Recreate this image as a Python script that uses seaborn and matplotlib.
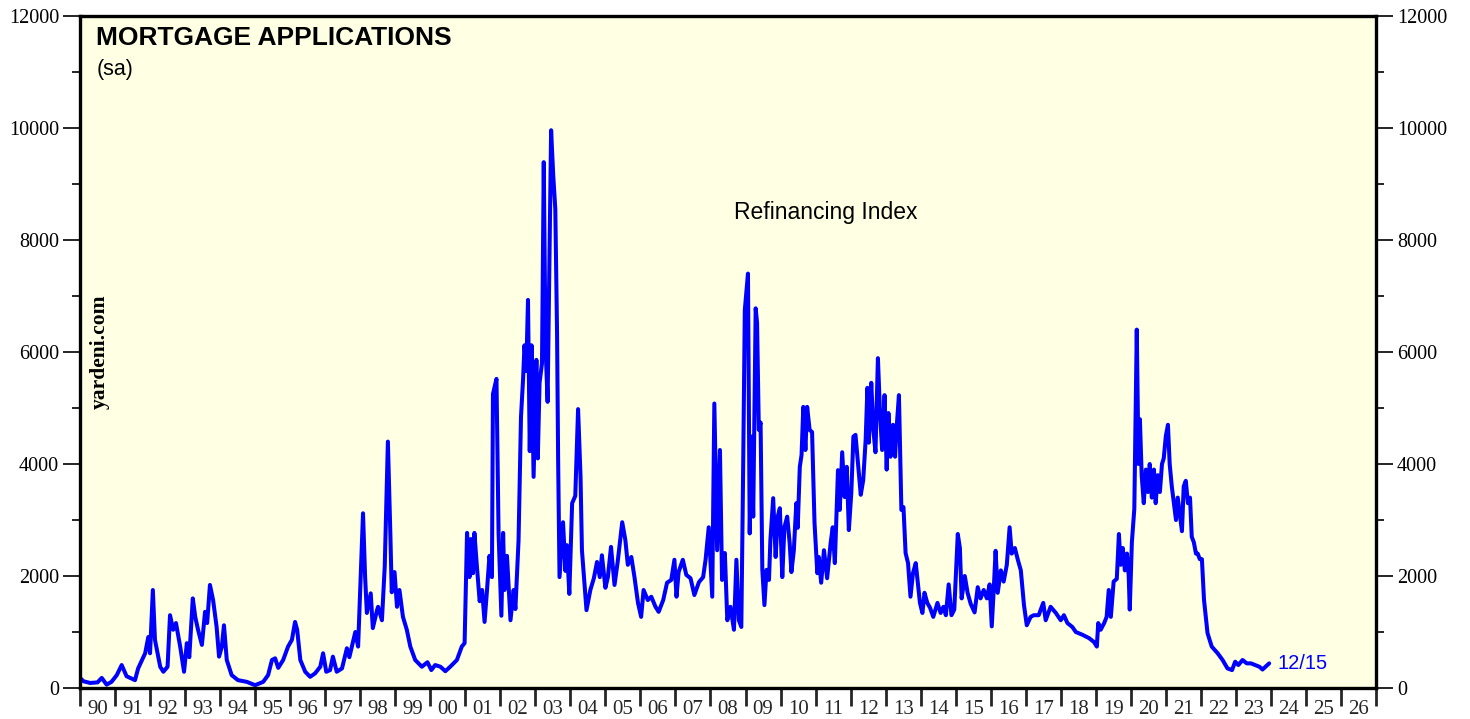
import numpy as np
import pandas as pd
import matplotlib
matplotlib.use("Agg")
import matplotlib.pyplot as plt
import seaborn as sns
from matplotlib.ticker import MultipleLocator, FixedLocator, FixedFormatter

# Refinancing index (decimal year, index value)
years = [
    1990.00, 1990.10, 1990.29, 1990.50, 1990.62, 1990.76, 1990.90, 1991.05, 1991.19, 1991.33,
    1991.57, 1991.66, 1991.86, 1991.95, 1992.00, 1992.08, 1992.14, 1992.29, 1992.38, 1992.50,
    1992.57, 1992.66, 1992.74, 1992.86, 1992.97, 1993.05, 1993.12, 1993.22, 1993.29, 1993.37,
    1993.48, 1993.57, 1993.63, 1993.71, 1993.80, 1993.90, 1993.97, 1994.05, 1994.11, 1994.19,
    1994.33, 1994.51, 1994.76, 1995.00, 1995.23, 1995.37, 1995.48, 1995.57, 1995.66, 1995.80,
    1995.94, 1996.05, 1996.14, 1996.20, 1996.29, 1996.43, 1996.57, 1996.71, 1996.86, 1996.94,
    1997.03, 1997.14, 1997.22, 1997.33, 1997.48, 1997.62, 1997.69, 1997.86, 1997.94, 1998.08,
    1998.14, 1998.19, 1998.30, 1998.36, 1998.48, 1998.51, 1998.62, 1998.70, 1998.79, 1998.86,
    1998.90, 1998.98, 1999.05, 1999.12, 1999.22, 1999.33, 1999.43, 1999.57, 1999.76, 1999.92,
    2000.03, 2000.14, 2000.29, 2000.43, 2000.57, 2000.76, 2000.90, 2000.98, 2001.05, 2001.12,
    2001.16, 2001.22, 2001.26, 2001.33, 2001.41, 2001.48, 2001.55, 2001.62, 2001.69, 2001.76,
    2001.79, 2001.89, 2001.95, 2002.03, 2002.08, 2002.12, 2002.19, 2002.29, 2002.38, 2002.43,
    2002.52, 2002.59, 2002.65, 2002.69, 2002.74, 2002.79, 2002.84, 2002.89, 2002.95, 2003.03,
    2003.07, 2003.12, 2003.19, 2003.24, 2003.29, 2003.35, 2003.45, 2003.51, 2003.57, 2003.62,
    2003.65, 2003.69, 2003.79, 2003.86, 2003.90, 2003.97, 2004.05, 2004.14, 2004.22, 2004.29,
    2004.33, 2004.46, 2004.57, 2004.67, 2004.76, 2004.84, 2004.90, 2005.00, 2005.07, 2005.16,
    2005.26, 2005.35, 2005.48, 2005.57, 2005.64, 2005.74, 2005.83, 2005.93, 2006.02, 2006.09,
    2006.21, 2006.31, 2006.43, 2006.52, 2006.65, 2006.76, 2006.88, 2006.97, 2007.03, 2007.09,
    2007.21, 2007.31, 2007.43, 2007.54, 2007.67, 2007.79, 2007.86, 2007.95, 2008.05, 2008.11,
    2008.19, 2008.27, 2008.33, 2008.41, 2008.48, 2008.57, 2008.67, 2008.74, 2008.81, 2008.88,
    2008.93, 2008.98, 2009.07, 2009.12, 2009.17, 2009.22, 2009.29, 2009.33, 2009.38, 2009.43,
    2009.48, 2009.54, 2009.60, 2009.67, 2009.71, 2009.79, 2009.86, 2009.92, 2009.98, 2010.05,
    2010.11, 2010.19, 2010.26, 2010.31, 2010.38, 2010.45, 2010.49, 2010.55, 2010.60, 2010.65,
    2010.71, 2010.76, 2010.83, 2010.90, 2010.97, 2011.05, 2011.09, 2011.16, 2011.24, 2011.33,
    2011.43, 2011.49, 2011.55, 2011.64, 2011.69, 2011.76, 2011.83, 2011.89, 2011.95, 2012.02,
    2012.08, 2012.14, 2012.21, 2012.29, 2012.36, 2012.43, 2012.48, 2012.52, 2012.59, 2012.65,
    2012.71, 2012.78, 2012.84, 2012.90, 2012.97, 2013.03, 2013.08, 2013.14, 2013.21, 2013.27,
    2013.31, 2013.38, 2013.45, 2013.51, 2013.57, 2013.64, 2013.71, 2013.78, 2013.86, 2013.92,
    2013.98, 2014.05, 2014.11, 2014.19, 2014.27, 2014.36, 2014.48, 2014.57, 2014.65, 2014.72,
    2014.80, 2014.88, 2014.96, 2015.06, 2015.12, 2015.17, 2015.26, 2015.34, 2015.43, 2015.54,
    2015.63, 2015.71, 2015.80, 2015.89, 2015.97, 2016.03, 2016.09, 2016.14, 2016.20, 2016.29,
    2016.37, 2016.46, 2016.54, 2016.60, 2016.69, 2016.77, 2016.86, 2016.95, 2017.03, 2017.14,
    2017.23, 2017.37, 2017.50, 2017.57, 2017.71, 2017.86, 2018.00, 2018.09, 2018.19, 2018.33,
    2018.43, 2018.62, 2018.81, 2018.95, 2019.03, 2019.07, 2019.14, 2019.24, 2019.31, 2019.37,
    2019.43, 2019.51, 2019.60, 2019.66, 2019.71, 2019.77, 2019.83, 2019.89, 2019.94, 2019.97,
    2020.03, 2020.10, 2020.17, 2020.22, 2020.26, 2020.31, 2020.37, 2020.43, 2020.49, 2020.54,
    2020.60, 2020.66, 2020.71, 2020.77, 2020.83, 2020.89, 2020.94, 2021.00, 2021.06, 2021.11,
    2021.17, 2021.23, 2021.29, 2021.34, 2021.40, 2021.46, 2021.51, 2021.57, 2021.63, 2021.69,
    2021.74, 2021.80, 2021.86, 2021.91, 2021.97, 2022.03, 2022.09, 2022.19, 2022.31, 2022.48,
    2022.62, 2022.76, 2022.89, 2022.98, 2023.07, 2023.19, 2023.31, 2023.43, 2023.55, 2023.67,
    2023.76, 2023.95,
]
refi = [
    180, 120, 90, 100, 180, 60, 110, 230, 410, 210,
    140, 350, 620, 910, 620, 1750, 860, 380, 290, 380,
    1300, 1040, 1160, 740, 290, 800, 550, 1600, 1270, 1040,
    770, 1360, 1160, 1840, 1570, 1090, 560, 740, 1120, 500,
    230, 140, 110, 50, 110, 230, 500, 530, 360, 500,
    740, 860, 1180, 1040, 500, 290, 200, 260, 380, 620,
    290, 320, 560, 290, 350, 710, 550, 1000, 740, 3120,
    1980, 1340, 1690, 1070, 1390, 1450, 1210, 2170, 4400, 2760,
    1710, 2070, 1450, 1750, 1270, 1040, 740, 500, 380, 460,
    320, 410, 380, 300, 380, 500, 740, 800, 2770, 1980,
    2660, 2050, 2770, 2180, 1550, 1750, 1180, 1750, 2360, 1980,
    5250, 5520, 2770, 1290, 2770, 1750, 2360, 1210, 1750, 1410,
    2630, 4840, 5520, 6120, 5660, 6930, 4230, 6120, 3770, 5860,
    4100, 5450, 5800, 9390, 6120, 5110, 9960, 9160, 8550, 6320,
    4100, 1980, 2960, 2090, 2550, 1680, 3300, 3430, 4980, 3770,
    2460, 1390, 1750, 1960, 2250, 1980, 2370, 1790, 1980, 2520,
    1840, 2250, 2960, 2640, 2200, 2340, 1980, 1520, 1270, 1750,
    1570, 1630, 1450, 1360, 1570, 1880, 1930, 2290, 1630, 2070,
    2290, 2020, 1960, 1660, 1890, 1980, 2290, 2870, 1630, 5080,
    2460, 4250, 1930, 2410, 1210, 1450, 1040, 2290, 1210, 1090,
    3770, 6750, 7400, 2760, 4490, 3060, 6780, 6520, 4610, 4740,
    2110, 1480, 2110, 1930, 2640, 3390, 2340, 3060, 3210, 1980,
    2870, 3060, 2590, 2070, 2460, 3300, 2860, 3950, 4160, 5020,
    4250, 5020, 4610, 4570, 2950, 2050, 2340, 1880, 2460, 1960,
    2590, 2870, 2230, 3890, 3180, 4210, 3410, 3950, 2820, 3480,
    4490, 4520, 4020, 3450, 3710, 4430, 5360, 4380, 5450, 4610,
    4210, 5890, 4910, 4250, 5230, 3900, 4910, 4130, 4700, 4130,
    4610, 5230, 3180, 3230, 2410, 2230, 1630, 2050, 2230, 1880,
    1520, 1340, 1700, 1520, 1430, 1270, 1520, 1340, 1450, 1300,
    1850, 1300, 1400, 2750, 2500, 1600, 2000, 1700, 1500, 1350,
    1800, 1600, 1750, 1600, 1850, 1100, 1800, 2450, 1700, 2100,
    1900, 2200, 2870, 2400, 2500, 2300, 2100, 1480, 1120, 1270,
    1300, 1300, 1520, 1210, 1450, 1340, 1210, 1300, 1160, 1090,
    1000, 950, 890, 820, 740, 1160, 1040, 1160, 1270, 1750,
    1270, 1900, 1950, 2750, 2200, 2500, 2100, 2400, 2000, 1400,
    2600, 3200, 6400, 4000, 4800, 3800, 3300, 3900, 3500, 4000,
    3400, 3900, 3300, 3800, 3500, 4000, 4100, 4500, 4700, 4000,
    3600, 3300, 3000, 3400, 3100, 2800, 3600, 3700, 3300, 3400,
    2700, 2600, 2400, 2400, 2300, 2300, 1570, 980, 740, 620,
    500, 350, 320, 470, 410, 500, 440, 440, 410, 380,
    330, 440,
]

year_ticks = list(range(1990, 2028))
year_labels = [f"{y % 100:02d}" for y in range(1990, 2027)]
y_major = [0, 2000, 4000, 6000, 8000, 10000, 12000]

df = pd.DataFrame({"year": years, "refi": refi})

sns.set_theme(style="white")
plt.rcParams["font.family"] = ["Liberation Sans", "DejaVu Sans"]

fig = plt.figure(figsize=(14.7, 7.19), dpi=100)
ax = fig.add_axes([80 / 1470, 31 / 719, 1296 / 1470, 672 / 719])
ax.set_facecolor("#FFFFE3")

sns.lineplot(data=df, x="year", y="refi", ax=ax, color="#0000FF",
             linewidth=2.9, estimator=None, sort=False)

ax.set_xlim(1990, 2027)
ax.set_ylim(0, 12000)
ax.set_xlabel("")
ax.set_ylabel("")

for side in ["left", "right", "top", "bottom"]:
    ax.spines[side].set_visible(True)
    ax.spines[side].set_color("black")
    ax.spines[side].set_linewidth(2.4)

# y axis: labels on both sides
ax.yaxis.set_major_locator(FixedLocator(y_major))
ax.yaxis.set_minor_locator(MultipleLocator(1000))
ax.tick_params(axis="y", which="both", direction="out", left=True, right=True,
               labelleft=True, labelright=True, colors="black")
ax.tick_params(axis="y", which="major", length=12, width=1.2, pad=3)
ax.tick_params(axis="y", which="minor", length=6, width=1.2)
for lab in ax.get_yticklabels():
    lab.set_fontfamily("Liberation Serif")
    lab.set_fontsize(14.5)

# x axis: ticks on year boundaries, labels centred in each year
ax.xaxis.set_major_locator(FixedLocator(year_ticks))
ax.xaxis.set_major_formatter(FixedFormatter([""] * len(year_ticks)))
ax.xaxis.set_minor_locator(FixedLocator([y + 0.5 for y in range(1990, 2027)]))
ax.xaxis.set_minor_formatter(FixedFormatter(year_labels))
ax.tick_params(axis="x", which="major", direction="out", length=13, width=2, bottom=True)
ax.tick_params(axis="x", which="minor", length=0, pad=9, labelsize=15)
for lab in ax.get_xticklabels(minor=True):
    lab.set_fontfamily("Liberation Serif")

ax.text(0.0125, 0.985, "MORTGAGE APPLICATIONS", transform=ax.transAxes,
        fontsize=19, fontweight="bold", va="top", ha="left", color="black")
ax.text(0.0125, 0.936, "(sa)", transform=ax.transAxes,
        fontsize=15.5, va="top", ha="left", color="black")
ax.text(2011.3, 8500, "Refinancing Index", fontsize=16.5, ha="center", va="center",
        color="black")
ax.text(0.0155, 0.5, "yardeni.com", transform=ax.transAxes, rotation=90,
        fontsize=15.5, fontweight="bold", fontfamily="Liberation Serif",
        ha="center", va="center", color="black")
ax.text(2024.2, 440, "12/15", fontsize=14.5, ha="left", va="center", color="#0000FF")

fig.savefig("out.png", dpi=100)
